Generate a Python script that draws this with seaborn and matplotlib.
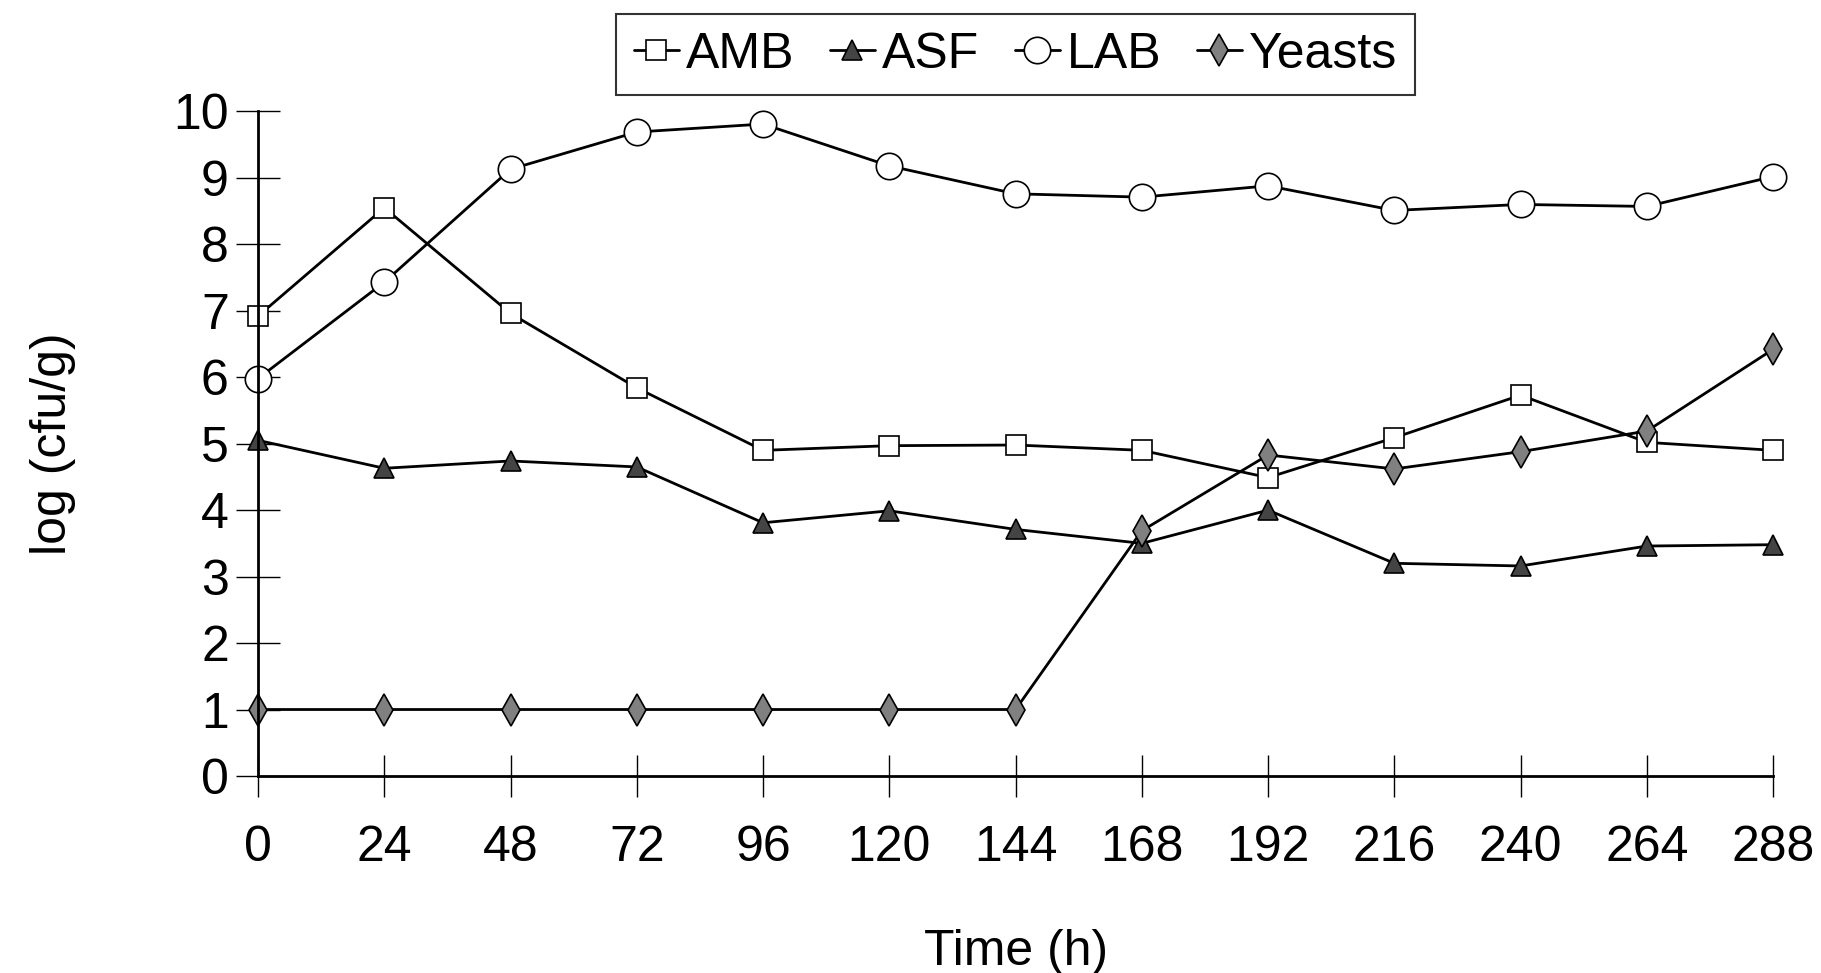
import numpy as np
import pandas as pd
import matplotlib
matplotlib.use("Agg")
import matplotlib.pyplot as plt
import seaborn as sns

# Zeitpunkte (h)
hours = [0, 24, 48, 72, 96, 120, 144, 168, 192, 216, 240, 264, 288]

# log (cfu/g) je Gruppe
amb = [6.92, 8.55, 6.96, 5.84, 4.90, 4.97, 4.98, 4.90, 4.49, 5.09, 5.73, 5.02, 4.90]
asf = [5.05, 4.63, 4.74, 4.65, 3.81, 3.99, 3.71, 3.50, 4.00, 3.20, 3.16, 3.46, 3.48]
lab = [5.98, 7.43, 9.13, 9.69, 9.81, 9.18, 8.76, 8.71, 8.88, 8.51, 8.60, 8.57, 9.02]
yeasts = [1.0, 1.0, 1.0, 1.0, 1.0, 1.0, 1.0, 3.69, 4.83, 4.62, 4.88, 5.19, 6.42]

series_names = ["AMB", "ASF", "LAB", "Yeasts"]
series_values = [amb, asf, lab, yeasts]

sns.set_style("white")
plt.rcParams["font.family"] = ["Liberation Sans", "DejaVu Sans"]
plt.rcParams["text.color"] = "black"
plt.rcParams["axes.labelcolor"] = "black"
plt.rcParams["xtick.color"] = "black"
plt.rcParams["ytick.color"] = "black"

fig = plt.figure(figsize=(18.21, 9.73), dpi=100)
ax = fig.add_axes([0.1417, 0.2025, 0.832, 0.683])

# Marker-Stile
styles = {
    "AMB": dict(marker="s", markersize=15, markerfacecolor="white"),
    "ASF": dict(marker="^", markersize=14, markerfacecolor="#444444"),
    "LAB": dict(marker="o", markersize=19, markerfacecolor="white"),
    "Yeasts": dict(marker="d", markersize=16, markerfacecolor="#808080"),
}

for name, vals in zip(series_names, series_values):
    df = pd.DataFrame({"Time": hours, "value": vals})
    sns.lineplot(data=df, x="Time", y="value", ax=ax, color="black", linewidth=2,
                 markeredgecolor="black", markeredgewidth=1.2, label=name,
                 clip_on=False, **styles[name])

ax.set_xlim(0, 288)
ax.set_ylim(0, 10)
ax.set_xticks(hours)
ax.set_yticks(range(0, 11))
ax.tick_params(axis="x", bottom=True, direction="inout", length=30, width=1, pad=20,
               labelsize=36, colors="black")
ax.tick_params(axis="y", left=True, direction="inout", length=32, width=1, pad=5,
               labelsize=36, colors="black")

for s in ["top", "right"]:
    ax.spines[s].set_visible(False)
for s in ["left", "bottom"]:
    ax.spines[s].set_linewidth(2)
    ax.spines[s].set_color("black")

ax.set_xlabel("Time (h)", fontsize=36, labelpad=42)
ax.set_ylabel("log (cfu/g)", fontsize=36, labelpad=70)

leg = ax.legend(loc="lower center", bbox_to_anchor=(0.5, 1.024), ncol=4, fontsize=36,
                frameon=True, fancybox=False, edgecolor="black", handlelength=0.9,
                handletextpad=0.15, columnspacing=0.7, borderpad=0.35, borderaxespad=0)
leg.get_frame().set_linewidth(1.5)
for t in leg.get_texts():
    t.set_color("black")

fig.savefig("out.png", dpi=100)
